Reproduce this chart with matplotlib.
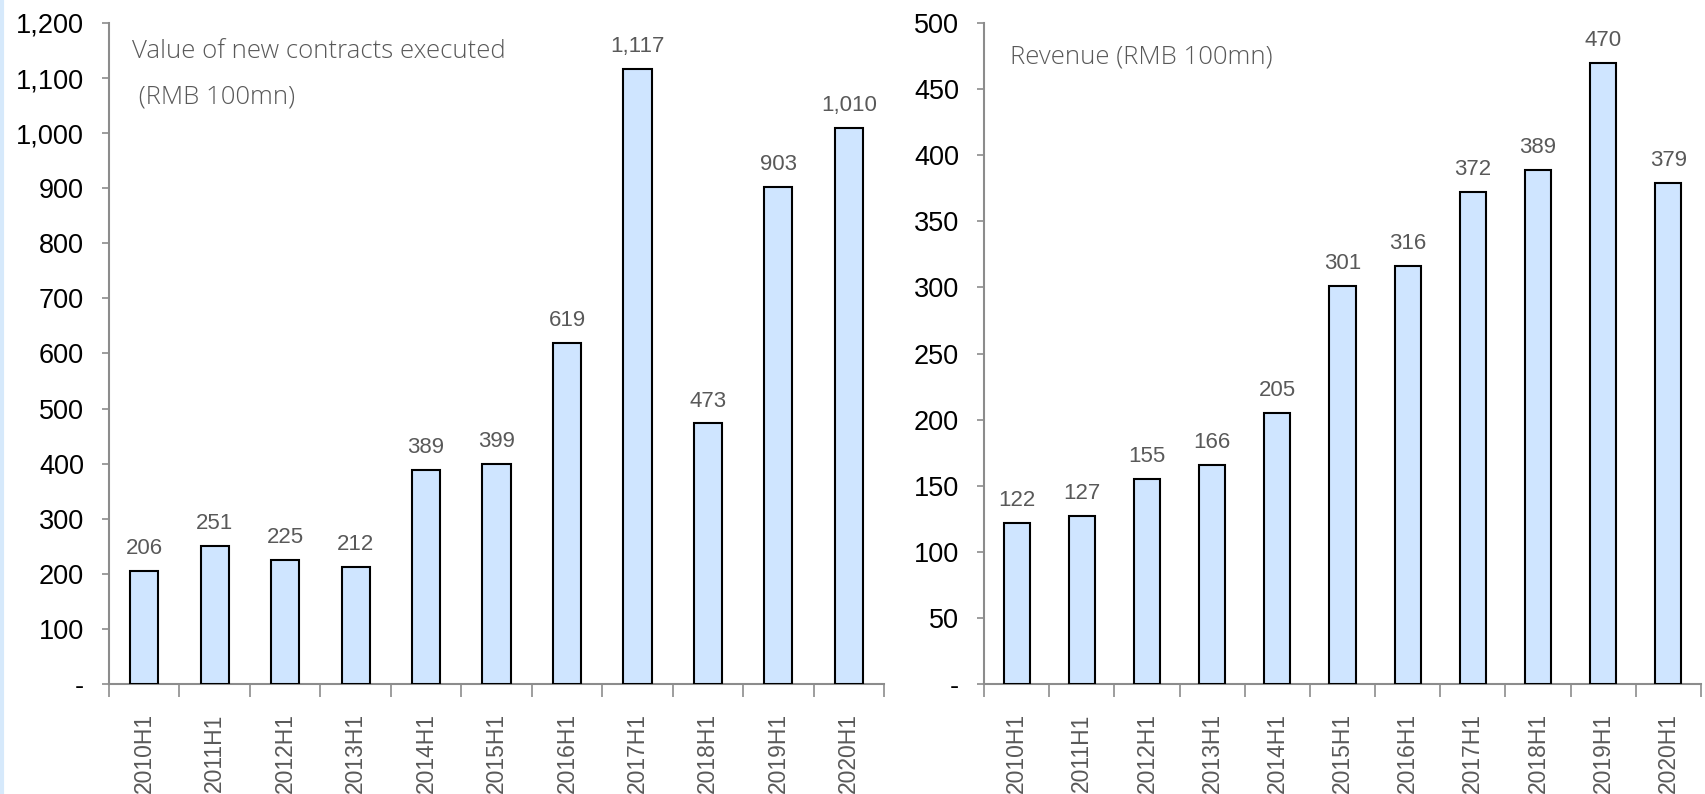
import numpy as np
import matplotlib
matplotlib.use("Agg")
import matplotlib.pyplot as plt
from matplotlib.ticker import FuncFormatter, MultipleLocator, FixedLocator
from matplotlib.lines import Line2D

periods = ["2010H1", "2011H1", "2012H1", "2013H1", "2014H1", "2015H1",
           "2016H1", "2017H1", "2018H1", "2019H1", "2020H1"]
contracts = [206, 251, 225, 212, 389, 399, 619, 1117, 473, 903, 1010]
revenue = [122, 127, 155, 166, 205, 301, 316, 372, 389, 470, 379]

BAR_COLOR = "#cfe5ff"
GREY_TXT = "#595959"
SPINE = "#8c8c8c"

plt.rcParams["font.family"] = ["Liberation Sans", "DejaVu Sans"]

fig = plt.figure(figsize=(17.05, 7.94), dpi=100)
ax1 = fig.add_axes([109 / 1705, 1 - 684 / 794, 775 / 1705, 661 / 794])
ax2 = fig.add_axes([984 / 1705, 1 - 684 / 794, 717 / 1705, 661 / 794])


def yfmt(v, pos):
    if abs(v) < 1e-9:
        return "-"
    return f"{v:,.0f}"


def draw(ax, values, ymax, step, title_lines, title_xy):
    x = np.arange(len(values))
    ax.bar(x, values, width=0.4, color=BAR_COLOR, edgecolor="black",
           linewidth=1.5, zorder=3)
    for xi, v in zip(x, values):
        ax.text(xi, v + ymax * 0.018, f"{v:,}", ha="center", va="bottom",
                fontsize=16, color=GREY_TXT)
    ax.set_xlim(-0.5, len(values) - 0.5)
    ax.set_ylim(0, ymax)
    ax.yaxis.set_major_locator(MultipleLocator(step))
    ax.yaxis.set_major_formatter(FuncFormatter(yfmt))
    ax.tick_params(axis="y", direction="out", length=5, width=1.2,
                   color=SPINE, labelsize=19.5, labelcolor="black", pad=13)
    # boundary ticks on x, labels at centres
    ax.xaxis.set_major_locator(FixedLocator(np.arange(len(values) + 1) - 0.5))
    ax.xaxis.set_major_formatter(FuncFormatter(lambda v, p: ""))
    ax.set_xticks(x, minor=True)
    ax.set_xticklabels(periods, minor=True, rotation=90, fontsize=16.5,
                       color=GREY_TXT)
    ax.tick_params(axis="x", which="major", direction="out", length=9,
                   width=1.2, color=SPINE)
    ax.tick_params(axis="x", which="minor", length=0, pad=21)
    for s in ("top", "right"):
        ax.spines[s].set_visible(False)
    for s in ("left", "bottom"):
        ax.spines[s].set_color(SPINE)
        ax.spines[s].set_linewidth(1.5)
    for i, line in enumerate(title_lines):
        fig.text(title_xy[i][0] / 1705, 1 - title_xy[i][1] / 794, line,
                 family="Open Sans", fontweight="light", fontsize=18.5,
                 color=GREY_TXT, ha="left", va="center")


draw(ax1, contracts, 1200, 100,
     ["Value of new contracts executed", " (RMB 100mn)"],
     [(132, 51), (132, 97)])
draw(ax2, revenue, 500, 50, ["Revenue (RMB 100mn)"], [(1010, 57)])

fig.add_artist(Line2D([0.001, 0.001], [0, 1], color="#d6e9fb", linewidth=3,
                      transform=fig.transFigure))

fig.savefig("out.png", dpi=100, facecolor="white")
